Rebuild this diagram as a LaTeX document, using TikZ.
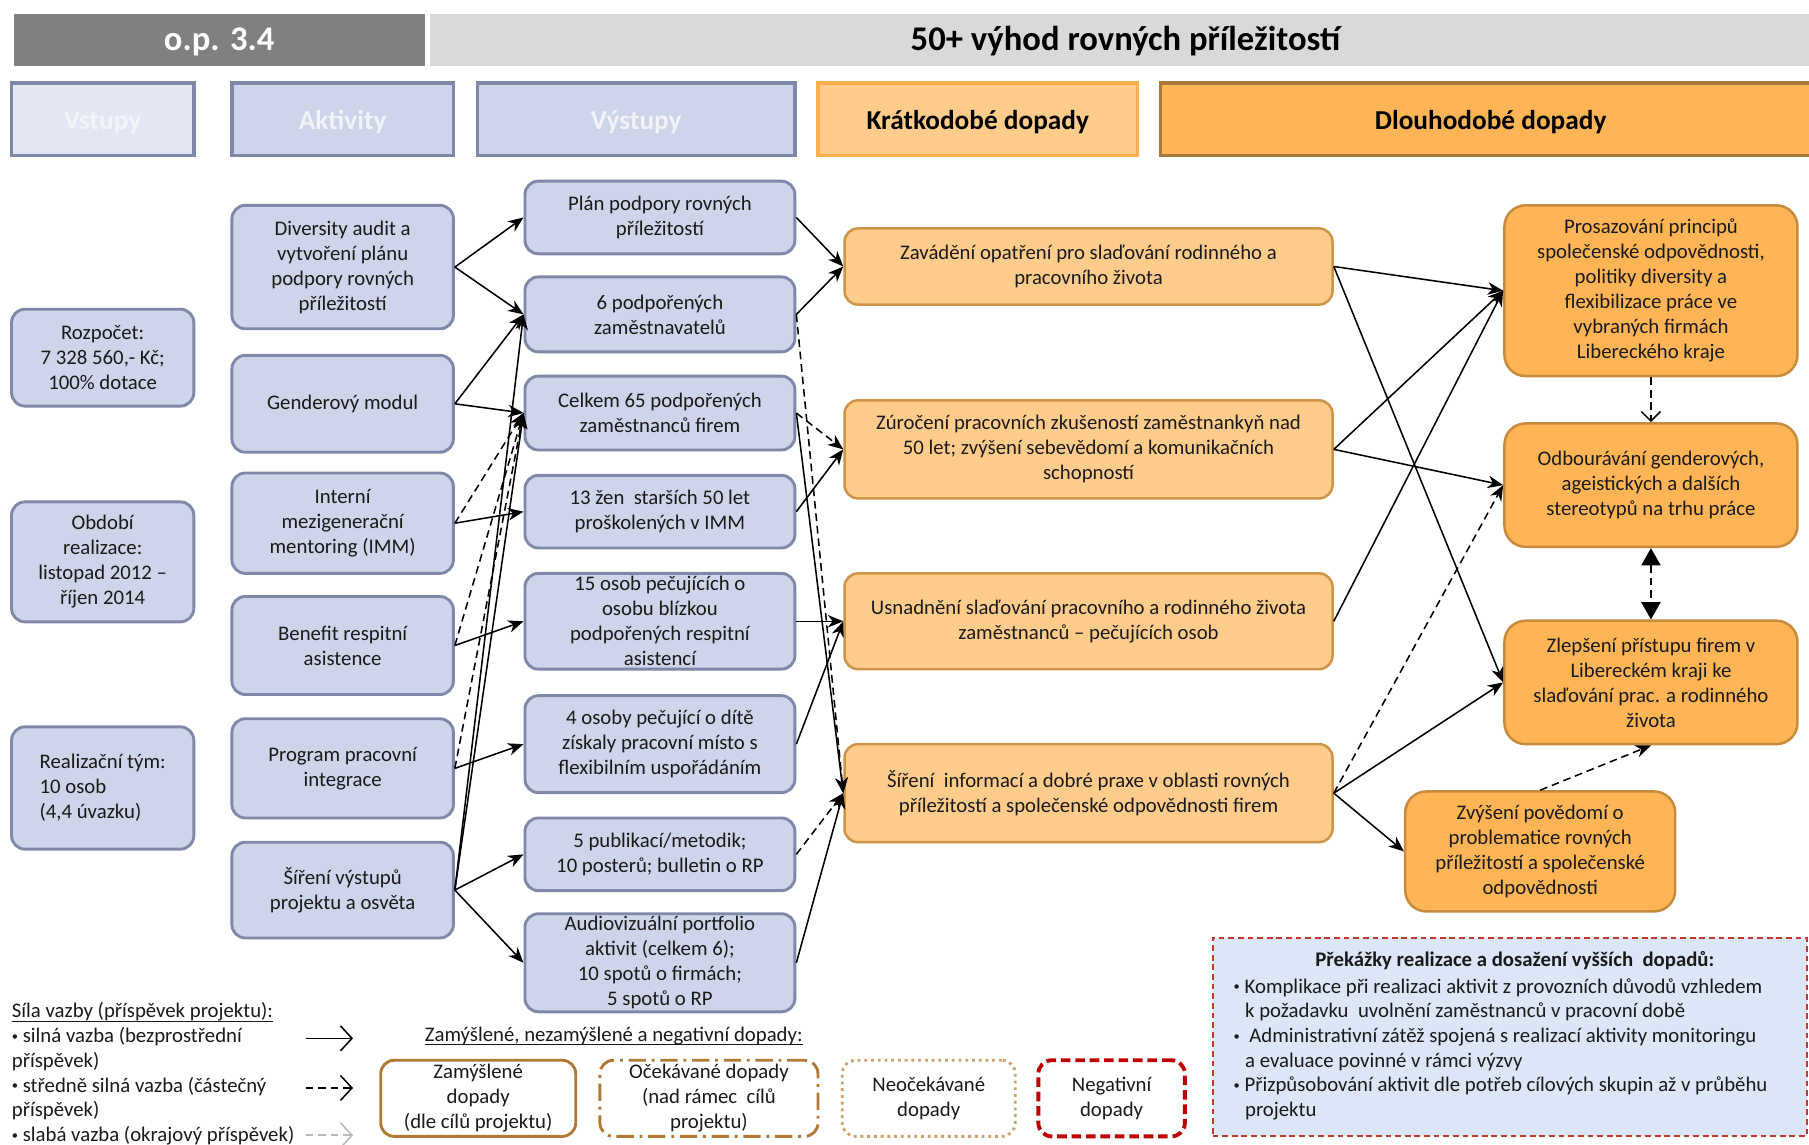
\documentclass[tikz,border=0pt]{standalone}
\usepackage{fontspec}
\setmainfont{Carlito}
\usetikzlibrary{arrows.meta}
\definecolor{bluefill}{HTML}{CED4E9}
\definecolor{bluefilllight}{HTML}{E3E6F3}
\definecolor{blueborder}{HTML}{7F88A8}
\definecolor{orlight}{HTML}{FFCC8C}
\definecolor{orlightborder}{HTML}{CE9448}
\definecolor{ordark}{HTML}{FFB556}
\definecolor{ordarkborder}{HTML}{C68B3C}
\definecolor{hdrorborder}{HTML}{FFB04C}
\definecolor{hdrdarkborder}{HTML}{A8793A}
\definecolor{darkgrey}{HTML}{808080}
\definecolor{lightgrey}{HTML}{D9D9D9}
\definecolor{obsfill}{HTML}{DCE6F7}
\definecolor{obsred}{HTML}{C0392B}
\definecolor{negred}{HTML}{C00000}
\definecolor{legbrown}{HTML}{B07A35}
\definecolor{legtan}{HTML}{C9A46E}
\definecolor{txt}{HTML}{1A1A1A}
\definecolor{hdrtxt}{HTML}{F3F4F9}
\newcommand\bx[7]{\node[#6, minimum width={(#4-#2)*0.6pt}, minimum height={(#5-#3)*0.6pt}] (#1) at ({(#2+#4)/2},{(#3+#5)/2}) {#7};}
\newcommand\bul{\raisebox{0.25ex}{\fontsize{6.5}{6.5}\selectfont•}}
\tikzset{
 base/.style={inner sep=0pt, align=center, font=\fontsize{10.8}{13}\selectfont, text=txt},
 bluebox/.style={base, draw=blueborder, fill=bluefill, line width=1.5pt, rounded corners=7pt},
 shortbox/.style={base, draw=orlightborder, fill=orlight, line width=1.3pt, rounded corners=7pt},
 longbox/.style={base, draw=ordarkborder, fill=ordark, line width=1.3pt, rounded corners=11pt},
 hdr/.style={inner sep=0pt, align=center, font=\fontsize{14.2}{17}\selectfont\bfseries, line width=1.8pt, text height=10.8pt, text depth=0pt},
 ttl/.style={inner sep=0pt, align=center, font=\fontsize{18}{21}\selectfont\bfseries, text height=11.6pt, text depth=0pt},
 legtext/.style={inner sep=0pt, font=\fontsize{10.8}{12.85}\selectfont, text=txt},
 conn/.style={draw=black, line width=0.8pt, -{Stealth[length=8pt,width=6.5pt,inset=2.5pt]}},
 connd/.style={conn, dash pattern=on 4pt off 2.5pt},
 legbox/.style={base, fill=white, line width=1.5pt, rounded corners=7pt},
}
\begin{document}
\begin{tikzpicture}[x=0.6pt,y=-0.6pt]
\useasboundingbox (0,0) rectangle (1568,992);
% header
\bx{op}{12}{12}{368}{57}{ttl, fill=darkgrey, text=white}{o.p. 3.4}
\bx{title}{373}{12}{1578}{57}{ttl, fill=lightgrey, text=black}{50+ výhod rovných příležitostí}
\bx{hVst}{10}{72}{168}{135}{hdr, draw=blueborder, fill=bluefilllight, text=hdrtxt}{Vstupy}
\bx{hAkt}{201}{72}{393}{135}{hdr, draw=blueborder, fill=bluefill, text=hdrtxt}{Aktivity}
\bx{hVys}{414}{72}{689}{135}{hdr, draw=blueborder, fill=bluefill, text=hdrtxt}{Výstupy}
\bx{hKra}{709}{72}{986}{135}{hdr, draw=hdrorborder, fill=orlight, text=black}{Krátkodobé dopady}
\bx{hDlo}{1006}{72}{1578}{135}{hdr, draw=hdrdarkborder, fill=ordark, text=black}{Dlouhodobé dopady}
% inputs
\bx{I1}{10}{268}{168}{352}{bluebox}{Rozpočet:\\7 328 560,- Kč;\\100\% dotace}
\bx{I2}{10}{435}{168}{539}{bluebox}{Období\\realizace:\\listopad 2012 –\\říjen 2014}
\bx{I3}{10}{630}{168}{736}{bluebox, align=left}{Realizační tým:\\10 osob\\(4,4 úvazku)}
% activities
\bx{A1}{201}{178}{393}{285}{bluebox}{Diversity audit a\\vytvoření plánu\\podpory rovných\\příležitostí}
\bx{A2}{201}{308}{393}{392}{bluebox}{Genderový modul}
\bx{A3}{201}{410}{393}{497}{bluebox}{Interní\\mezigenerační\\mentoring (IMM)}
\bx{A4}{201}{517}{393}{602}{bluebox}{Benefit respitní\\asistence}
\bx{A5}{201}{623}{393}{709}{bluebox}{Program pracovní\\integrace}
\bx{A6}{201}{730}{393}{813}{bluebox}{Šíření výstupů\\projektu a osvěta}
% outputs
\bx{O1}{455}{157}{689}{220}{bluebox}{Plán podpory rovných\\příležitostí}
\bx{O2}{455}{240}{689}{305}{bluebox}{6 podpořených\\zaměstnavatelů}
\bx{O3}{455}{326}{689}{390}{bluebox}{Celkem 65 podpořených\\zaměstnanců firem}
\bx{O4}{455}{412}{689}{475}{bluebox}{13 žen~ starších 50 let\\proškolených v IMM}
\bx{O5}{455}{497}{689}{580}{bluebox}{15 osob pečujících o\\osobu blízkou\\podpořených respitní\\asistencí}
\bx{O6}{455}{603}{689}{687}{bluebox}{4 osoby pečující o dítě\\získaly pracovní místo s\\flexibilním uspořádáním}
\bx{O7}{455}{709}{689}{772}{bluebox}{5 publikací/metodik;\\10 posterů; bulletin o RP}
\bx{O8}{455}{792}{689}{877}{bluebox}{Audiovizuální portfolio\\aktivit (celkem 6);\\10 spotů o firmách;\\5 spotů o RP}
% short-term
\bx{S1}{732}{198}{1155}{264}{shortbox}{Zavádění opatření pro slaďování rodinného a\\pracovního života}
\bx{S2}{732}{347}{1155}{432}{shortbox}{Zúročení pracovních zkušeností zaměstnankyň nad\\50 let; zvýšení sebevědomí a komunikačních\\schopností}
\bx{S3}{732}{497}{1155}{580}{shortbox}{Usnadnění slaďování pracovního a rodinného života\\zaměstnanců – pečujících osob}
\bx{S4}{732}{645}{1155}{730}{shortbox}{Šíření~ informací a dobré praxe v oblasti rovných\\příležitostí a společenské odpovědnosti firem}
% long-term
\bx{L1}{1304}{178}{1558}{326}{longbox}{Prosazování principů\\společenské odpovědnosti,\\politiky diversity a\\flexibilizace práce ve\\vybraných firmách\\Libereckého kraje}
\bx{L2}{1304}{367}{1558}{474}{longbox}{Odbourávání genderových,\\ageistických a dalších\\stereotypů na trhu práce}
\bx{L3}{1304}{538}{1558}{645}{longbox}{Zlepšení přístupu firem v\\Libereckém kraji ke\\slaďování prac. a rodinného\\života}
\bx{L4}{1218}{686}{1452}{790}{longbox}{Zvýšení povědomí o\\problematice rovných\\příležitostí a společenské\\odpovědnosti}
% obstacles
\bx{obs}{1051}{813}{1566}{985}{base, draw=obsred, fill=obsfill, line width=1pt, dash pattern=on 3pt off 2pt}{}
\node[legtext, font=\fontsize{10.8}{13}\selectfont\bfseries] (obst) at (1313,833) {Překážky realizace a dosažení vyšších~ dopadů:};
\node[legtext, align=left, anchor=west] (obsb) at (1069,909.5) {\bul\ Komplikace při realizaci aktivit z provozních důvodů vzhledem\\\hspace*{0.55em}k požadavku~ uvolnění zaměstnanců v pracovní době\\\bul~~Administrativní zátěž spojená s realizací aktivity monitoringu\\\hspace*{0.55em}a evaluace povinné v rámci výzvy\\\bul\ Přizpůsobování aktivit dle potřeb cílových skupin až v průběhu\\\hspace*{0.55em}projektu};
% connectors activities -> outputs
\draw[conn] (A1.east) -- (O1.west);
\draw[conn] (A1.east) -- (O2.west);
\draw[conn] (A2.east) -- (O2.west);
\draw[conn] (A2.east) -- (O3.west);
\draw[conn] (A3.east) -- (O4.west);
\draw[connd] (A3.east) -- (O3.west);
\draw[conn] (A4.east) -- (O5.west);
\draw[connd] (A4.east) -- (O3.west);
\draw[conn] (A5.east) -- (O6.west);
\draw[connd] (A5.east) -- (O3.west);
\draw[conn] (A6.east) -- (O7.west);
\draw[conn] (A6.east) -- (O8.west);
\draw[conn] (A6.east) -- (O2.west);
\draw[conn] (A6.east) -- (O3.west);
% outputs -> short-term
\draw[conn] (O1.east) -- (S1.west);
\draw[conn] (O2.east) -- (S1.west);
\draw[connd] (O2.east) -- (S4.west);
\draw[connd] (O3.east) -- (S2.west);
\draw[conn] (O3.east) -- (S4.west);
\draw[conn] (O4.east) -- (S2.west);
\draw[conn] (O5.east) -- (S3.west);
\draw[conn] (O6.east) -- (S3.west);
\draw[connd] (O7.east) -- (S4.west);
\draw[conn] (O8.east) -- (S4.west);
% short -> long
\draw[conn] (S1.east) -- (L1.west);
\draw[conn] (S1.east) -- (L3.west);
\draw[conn] (S2.east) -- (L1.west);
\draw[conn] (S2.east) -- (L2.west);
\draw[conn] (S3.east) -- (L1.west);
\draw[connd] (S4.east) -- (L2.west);
\draw[conn] (S4.east) -- (L3.west);
\draw[conn] (S4.east) -- (L4.west);
\draw[line width=0.8pt, dash pattern=on 4pt off 2.5pt, -{Straight Barb[length=5pt,width=10pt]}] (L1.south) -- (L2.north);
\draw[line width=0.8pt, dash pattern=on 4pt off 2.5pt, {Triangle[length=9pt,width=10pt]}-{Triangle[length=9pt,width=10pt]}] (L2.south) -- (L3.north);
\draw[connd] (L4.north) -- (L3.south);
% legend left
\node[legtext, anchor=west] (lt1) at (10,877) {Síla vazby (příspěvek projektu):};
\draw[line width=0.6pt, txt] ([yshift=-1.8pt]lt1.base west) -- ([yshift=-1.8pt]lt1.base east);
\node[legtext, anchor=west, align=left] (lt2) at (10,941.6) {\bul\ silná vazba (bezprostřední\\příspěvek)\\\bul\ středně silná vazba (částečný\\příspěvek)\\\bul\ slabá vazba (okrajový příspěvek)};
\coordinate (la1) at (265,900); \coordinate (la2) at (306,900);
\coordinate (lb1) at (265,943); \coordinate (lb2) at (306,943);
\coordinate (lc1) at (265,984); \coordinate (lc2) at (306,984);
\draw[line width=0.8pt, -{Straight Barb[length=6pt,width=13pt]}] (la1) -- (la2);
\draw[line width=0.8pt, dash pattern=on 4pt off 2.5pt, -{Straight Barb[length=6pt,width=13pt]}] (lb1) -- (lb2);
\draw[line width=0.8pt, gray!55, dash pattern=on 4pt off 2.5pt, -{Straight Barb[length=6pt,width=13pt]}] (lc1) -- (lc2);
% legend impacts
\node[legtext] (lt3) at (532,898) {Zamýšlené, nezamýšlené a negativní dopady:};
\draw[line width=0.6pt, txt] ([yshift=-1.8pt]lt3.base west) -- ([yshift=-1.8pt]lt3.base east);
\bx{lZ}{330}{919}{499}{985}{legbox, draw=legbrown}{Zamýšlené\\dopady\\(dle cílů projektu)}
\bx{lO}{520}{919}{709}{985}{legbox, draw=legbrown, dash pattern=on 9pt off 3pt on 1.5pt off 3pt}{Očekávané dopady\\(nad rámec~ cílů\\projektu)}
\bx{lN}{730}{919}{880}{985}{legbox, draw=legtan, dotted}{Neočekávané\\dopady}
\bx{lNeg}{900}{919}{1027}{985}{legbox, draw=negred, line width=2pt, dash pattern=on 5pt off 2.5pt}{Negativní\\dopady}
\end{tikzpicture}
\end{document}
